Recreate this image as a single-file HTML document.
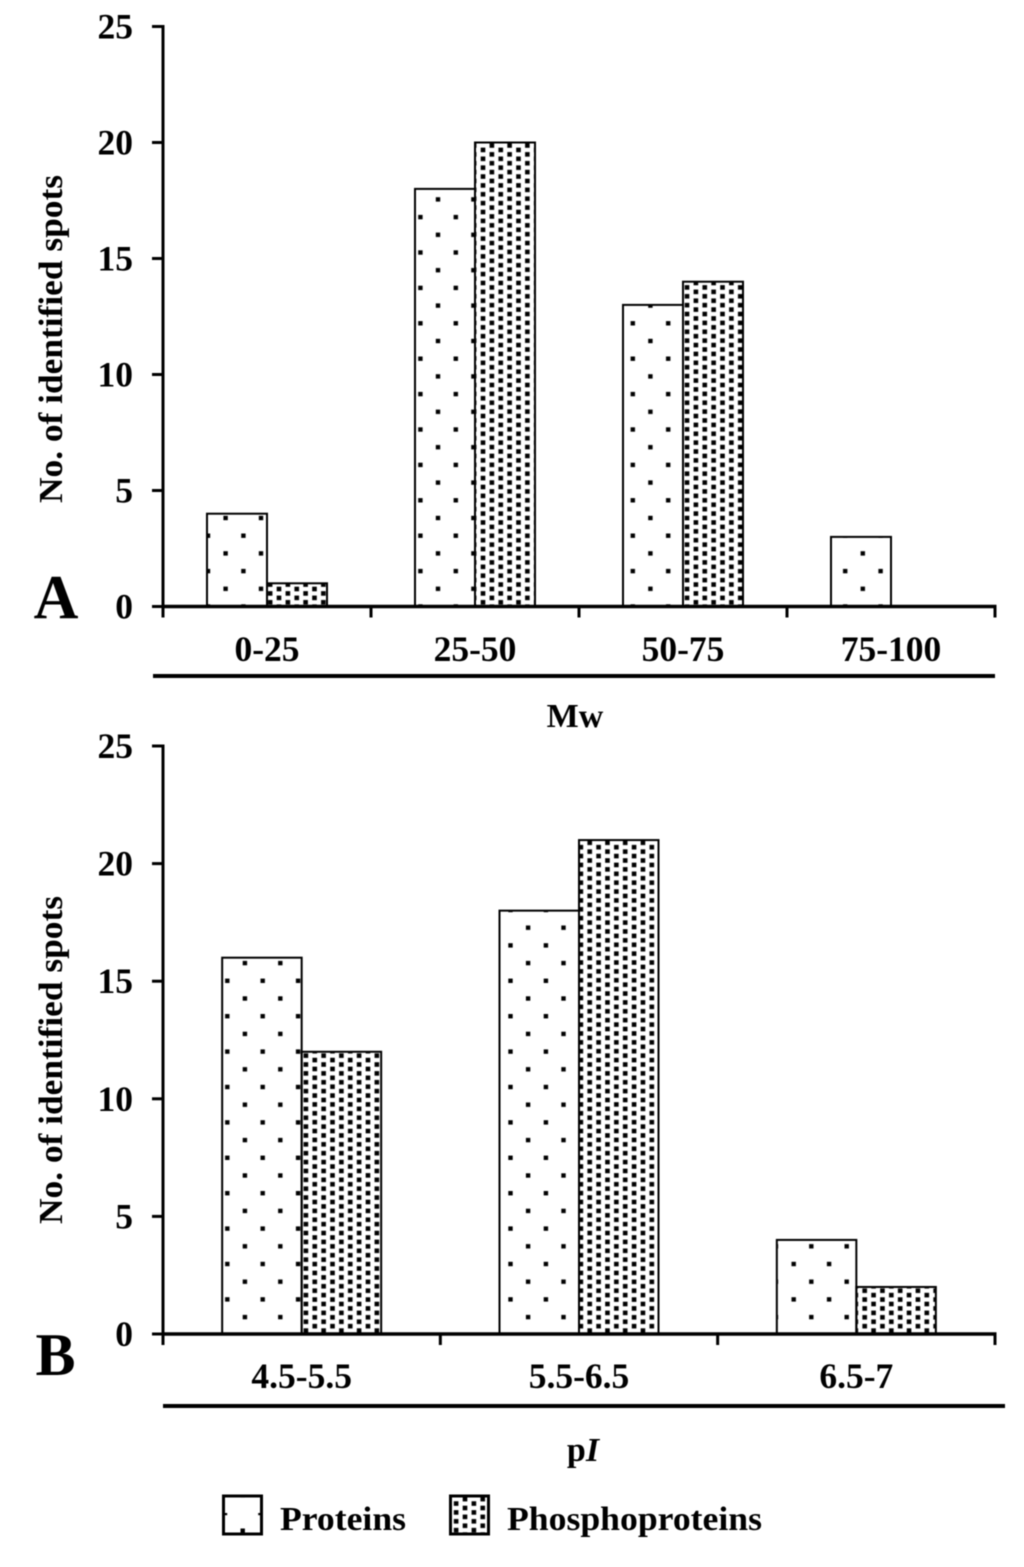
<!DOCTYPE html>
<html>
<head>
<meta charset="utf-8">
<title>Identified spots by Mw and pI</title>
<style>
html,body{margin:0;padding:0;background:#fff;}
svg{display:block;filter:blur(0.4px);}
text{font-family:"Liberation Serif",serif;font-weight:bold;fill:#000;}
</style>
</head>
<body>
<svg id="chart" xmlns="http://www.w3.org/2000/svg" width="1024" height="1567" viewBox="0 0 1024 1567">
<defs>
<pattern id="sparseA" patternUnits="userSpaceOnUse" x="208" y="518" width="35.4" height="35.4"><rect x="15.4" y="-2.2" width="4.4" height="4.4"/><rect x="15.4" y="33.2" width="4.4" height="4.4"/><rect x="-2.2" y="15.5" width="4.4" height="4.4"/><rect x="33.2" y="15.5" width="4.4" height="4.4"/></pattern>
<pattern id="sparseB" patternUnits="userSpaceOnUse" x="793.7" y="1246.3" width="35.4" height="35.4"><rect x="15.4" y="-2.2" width="4.4" height="4.4"/><rect x="15.4" y="33.2" width="4.4" height="4.4"/><rect x="-2.2" y="15.5" width="4.4" height="4.4"/><rect x="33.2" y="15.5" width="4.4" height="4.4"/></pattern>
<pattern id="denseA" patternUnits="userSpaceOnUse" x="279" y="589" width="17.74" height="8.87"><rect x="-2.3" y="-2.3" width="4.6" height="4.6"/><rect x="15.44" y="-2.3" width="4.6" height="4.6"/><rect x="-2.3" y="6.57" width="4.6" height="4.6"/><rect x="15.44" y="6.57" width="4.6" height="4.6"/><rect x="6.57" y="2.13" width="4.6" height="4.6"/></pattern>
<pattern id="denseB" patternUnits="userSpaceOnUse" x="864.7" y="1290.7" width="17.74" height="8.87"><rect x="-2.3" y="-2.3" width="4.6" height="4.6"/><rect x="15.44" y="-2.3" width="4.6" height="4.6"/><rect x="-2.3" y="6.57" width="4.6" height="4.6"/><rect x="15.44" y="6.57" width="4.6" height="4.6"/><rect x="6.57" y="2.13" width="4.6" height="4.6"/></pattern>
</defs>
<g id="layer"></g>
<text x="56" y="618" font-size="62" text-anchor="middle">A</text>
<text x="55.5" y="1375" font-size="60" text-anchor="middle">B</text>
<text transform="translate(62,339) rotate(-90)" font-size="34" text-anchor="middle" textLength="328" lengthAdjust="spacingAndGlyphs">No. of identified spots</text>
<text transform="translate(62,1060) rotate(-90)" font-size="34" text-anchor="middle" textLength="328" lengthAdjust="spacingAndGlyphs">No. of identified spots</text>
<text x="575" y="727" font-size="34" text-anchor="middle">Mw</text>
<text x="583" y="1461" font-size="34" text-anchor="middle">p<tspan font-style="italic">I</tspan></text>
<rect x="153" y="674" width="842" height="4"/>
<rect x="163" y="1404" width="842" height="4"/>
<g>
<rect x="223.5" y="1496" width="38" height="38" fill="url(#legendSparse)" stroke="#000" stroke-width="3"/>
<text x="280" y="1530" font-size="34" textLength="126" lengthAdjust="spacingAndGlyphs">Proteins</text>
<rect x="450.5" y="1496" width="38" height="38" fill="url(#denseLegend)" stroke="#000" stroke-width="3"/>
<text x="507" y="1530" font-size="34" textLength="255" lengthAdjust="spacingAndGlyphs">Phosphoproteins</text>
</g>
<defs>
<pattern id="legendSparse" patternUnits="userSpaceOnUse" x="225" y="1513" width="35.4" height="35.4"><rect x="-2.2" y="-2.2" width="4.4" height="4.4"/><rect x="33.2" y="-2.2" width="4.4" height="4.4"/><rect x="15.5" y="15.5" width="4.4" height="4.4"/></pattern>
<pattern id="denseLegend" patternUnits="userSpaceOnUse" x="465" y="1508" width="17.74" height="8.87"><rect x="-2.3" y="-2.3" width="4.6" height="4.6"/><rect x="15.44" y="-2.3" width="4.6" height="4.6"/><rect x="-2.3" y="6.57" width="4.6" height="4.6"/><rect x="15.44" y="6.57" width="4.6" height="4.6"/><rect x="6.57" y="2.13" width="4.6" height="4.6"/></pattern>
</defs>
</svg>
<script>
const mwCategories = ['0-25', '25-50', '50-75', '75-100'];
const mwProteins = [4, 18, 13, 3];
const mwPhosphoproteins = [1, 20, 14, 0];
const piCategories = ['4.5-5.5', '5.5-6.5', '6.5-7'];
const piProteins = [16, 18, 4];
const piPhosphoproteins = [12, 21, 2];
const yTicks = [0, 5, 10, 15, 20, 25];

const NS = 'http://www.w3.org/2000/svg';
const layer = document.getElementById('layer');

function add(tag, attrs, text) {
  const el = document.createElementNS(NS, tag);
  for (const k in attrs) el.setAttribute(k, attrs[k]);
  if (text !== undefined) el.textContent = text;
  layer.appendChild(el);
  return el;
}

function drawPanel(p) {
  const yScale = v => p.y0 - (v / 25) * (p.y0 - p.y25);
  const step = (p.x1 - p.x0) / p.categories.length;
  const xCenter = i => p.x0 + step * (i + 0.5);

  p.categories.forEach(function (cat, i) {
    const a = p.proteins[i];
    const b = p.phospho[i];
    if (a > 0) {
      const r = add('rect', { x: xCenter(i) - p.barW, y: yScale(a), width: p.barW, height: p.y0 - yScale(a), fill: 'url(#' + p.sparse + ')', stroke: '#000', 'stroke-width': 2 });
      
      
    }
    if (b > 0) {
      const r = add('rect', { x: xCenter(i), y: yScale(b), width: p.barW, height: p.y0 - yScale(b), fill: 'url(#' + p.dense + ')', stroke: '#000', 'stroke-width': 2 });
      
      
    }
    const t = add('text', { x: xCenter(i), y: p.labelY, 'font-size': 35.5, 'text-anchor': 'middle' }, cat);
    
    
  });

  yTicks.forEach(function (v) {
    const tick = add('line', { x1: 152, x2: 163, y1: yScale(v), y2: yScale(v), stroke: '#000', 'stroke-width': 3 });
    
    
    const t = add('text', { x: 133, y: yScale(v) + 12, 'font-size': 35.5, 'text-anchor': 'end' }, String(v));
    
    
  });

  for (let i = 0; i <= p.categories.length; i++) {
    const x = p.x0 + step * i;
    const tick = add('line', { x1: x, x2: x, y1: p.y0, y2: p.y0 + 11, stroke: '#000', 'stroke-width': 3 });
    
    
  }

  const yAxis = add('line', { x1: p.x0, x2: p.x0, y1: p.y25 - 1.5, y2: p.y0, stroke: '#000', 'stroke-width': 3 });
  
  
  const xAxis = add('line', { x1: p.x0, x2: p.x1 + 1.5, y1: p.y0, y2: p.y0, stroke: '#000', 'stroke-width': 3.5 });
  
  
}

drawPanel({ categories: mwCategories, proteins: mwProteins, phospho: mwPhosphoproteins, x0: 163, x1: 995, y0: 606.5, y25: 26.5, barW: 60, labelY: 661, sparse: 'sparseA', dense: 'denseA' });
drawPanel({ categories: piCategories, proteins: piProteins, phospho: piPhosphoproteins, x0: 163, x1: 995, y0: 1334, y25: 746, barW: 79.5, labelY: 1388, sparse: 'sparseB', dense: 'denseB' });
</script>
</body>
</html>
